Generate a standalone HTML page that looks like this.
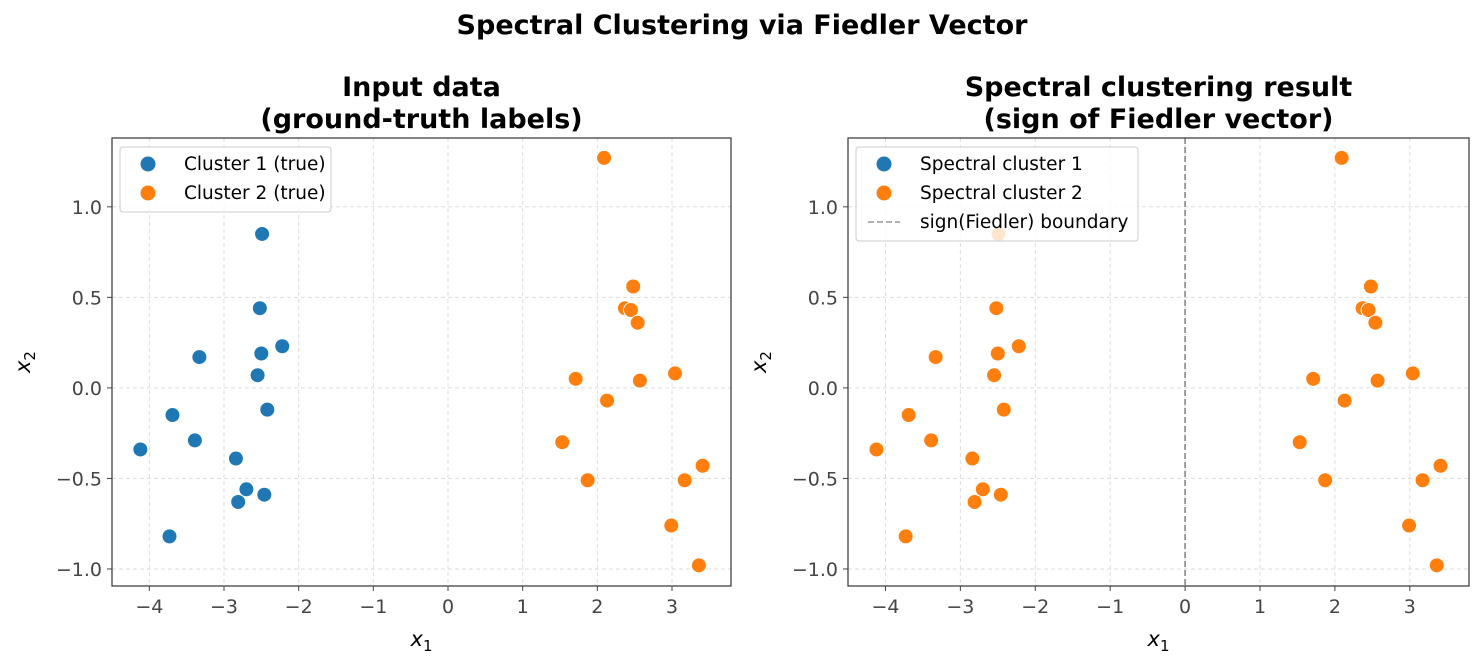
<!DOCTYPE html>
<html><head><meta charset="utf-8"><style>
body{margin:0;background:#fff;font-family:"DejaVu Sans","Liberation Sans",sans-serif}
svg text{font-family:"DejaVu Sans","Liberation Sans",sans-serif}
</style></head><body>
<svg id="fig" width="1484" height="667" xmlns="http://www.w3.org/2000/svg">
<rect width="1484" height="667" fill="#fff"/>
<text x="742" y="34" text-anchor="middle" font-size="27" font-weight="bold">Spectral Clustering via Fiedler Vector</text>
</svg>
<script>
const xs=[-2.49,-2.52,-2.50,-2.55,-2.22,-3.33,-3.69,-2.42,-3.39,-4.12,-2.84,-2.70,-2.81,-2.46,-3.73,
 2.09,2.48,2.37,2.45,2.54,1.71,2.57,3.04,2.13,1.53,1.87,3.17,3.41,2.99,3.36];
const ys=[0.85,0.44,0.19,0.07,0.23,0.17,-0.15,-0.12,-0.29,-0.34,-0.39,-0.56,-0.63,-0.59,-0.82,
 1.27,0.56,0.44,0.43,0.36,0.05,0.04,0.08,-0.07,-0.30,-0.51,-0.51,-0.43,-0.76,-0.98];
const trueLabels=[0,0,0,0,0,0,0,0,0,0,0,0,0,0,0,1,1,1,1,1,1,1,1,1,1,1,1,1,1,1];
const predLabels=[1,1,1,1,1,1,1,1,1,1,1,1,1,1,1,1,1,1,1,1,1,1,1,1,1,1,1,1,1,1];
const xTicks=[-4,-3,-2,-1,0,1,2,3];
const yTicks=[-1.0,-0.5,0.0,0.5,1.0];
const NS="http://www.w3.org/2000/svg";
const svg=document.getElementById('fig');
const COLORS=['#1f77b4','#ff7f0e'];
function mk(t,a,p){const e=document.createElementNS(NS,t);for(const k in a)e.setAttribute(k,a[k]);(p||svg).appendChild(e);return e;}
function panel(L,R,T,B,labels,title1,title2,legend,boundary,pre){
 const xmin=-4.5,xmax=3.79,ymin=-1.094,ymax=1.38;
 const sx=v=>L+(v-xmin)/(xmax-xmin)*(R-L), sy=v=>B-(v-ymin)/(ymax-ymin)*(B-T);
 const g=mk('g',{});
 
 
 xTicks.forEach(v=>{const x=sx(v);
  const gl=mk('line',{x1:x,x2:x,y1:T,y2:B,stroke:'#ddd','stroke-dasharray':'4,3','stroke-width':1},g);
  
  mk('line',{x1:x,x2:x,y1:B,y2:B+5,stroke:'#444'},g);
  const t=mk('text',{x:x,y:B+27,'text-anchor':'middle','font-size':19,fill:'#444'},g);
  
  t.textContent=(v<0?'\u2212'+(-v):v);});
 yTicks.forEach(v=>{const y=sy(v);
  const gl=mk('line',{x1:L,x2:R,y1:y,y2:y,stroke:'#ddd','stroke-dasharray':'4,3','stroke-width':1},g);
  
  mk('line',{x1:L-5,x2:L,y1:y,y2:y,stroke:'#444'},g);
  const t=mk('text',{x:L-10,y:y+7,'text-anchor':'end','font-size':19,fill:'#444'},g);
  
  t.textContent=(v<0?'\u2212'+(-v).toFixed(1):v.toFixed(1));});
 if(boundary){const x=sx(0);const b=mk('line',{x1:x,x2:x,y1:T,y2:B,stroke:'#888','stroke-dasharray':'6,3','stroke-width':1.6},g);
  }
 xs.forEach((v,i)=>{const c=mk('circle',{cx:sx(v),cy:sy(ys[i]),r:7.5,fill:COLORS[labels[i]],stroke:'#fff','stroke-width':1},g);
  });
 mk('rect',{x:L,y:T,width:R-L,height:B-T,fill:'none',stroke:'#333','stroke-width':1.2},g);
 const t1=mk('text',{x:(L+R)/2,y:T-42,'text-anchor':'middle','font-size':27,'font-weight':'bold'},g);
 t1.textContent=title1;
 const t2=mk('text',{x:(L+R)/2,y:T-10,'text-anchor':'middle','font-size':27,'font-weight':'bold'},g);
 t2.textContent=title2;
 const xl=mk('text',{x:(L+R)/2,y:B+60,'text-anchor':'middle','font-size':21,'font-style':'italic'},g);
 
 xl.innerHTML='x<tspan font-size="15" dy="5" font-style="normal">1</tspan>';
 const yl=mk('text',{x:0,y:0,'text-anchor':'middle','font-size':21,'font-style':'italic',transform:`translate(${L-82},${(T+B)/2}) rotate(-90)`},g);
 
 yl.innerHTML='x<tspan font-size="15" dy="5" font-style="normal">2</tspan>';
 const lw=legend.w, lh=legend.items.length*29+7;
 const lg=mk('g',{},g);
 
 mk('rect',{x:L+8,y:T+9,width:lw,height:lh,rx:3,fill:'#fff','fill-opacity':0.8,stroke:'#ccc'},lg);
 legend.items.forEach((it,k)=>{const cy=T+26+k*29;
  if(it.c){mk('circle',{cx:L+36,cy:cy,r:7.5,fill:it.c},lg);}
  else mk('line',{x1:L+20,x2:L+52,y1:cy,y2:cy,stroke:'#999','stroke-dasharray':'6,3','stroke-width':1.6},lg);
  const t=mk('text',{x:L+72,y:cy+6,'font-size':18.5},lg);
  t.textContent=it.t;});
}
panel(112,731,138,586,trueLabels,'Input data','(ground-truth labels)',
 {w:211,items:[{c:COLORS[0],t:'Cluster 1 (true)'},{c:COLORS[1],t:'Cluster 2 (true)'}]},false,'left');
panel(848,1469,138,586,predLabels,'Spectral clustering result','(sign of Fiedler vector)',
 {w:282,items:[{c:COLORS[0],t:'Spectral cluster 1'},{c:COLORS[1],t:'Spectral cluster 2'},{c:null,t:'sign(Fiedler) boundary'}]},true,'right');
</script>
</body></html>
